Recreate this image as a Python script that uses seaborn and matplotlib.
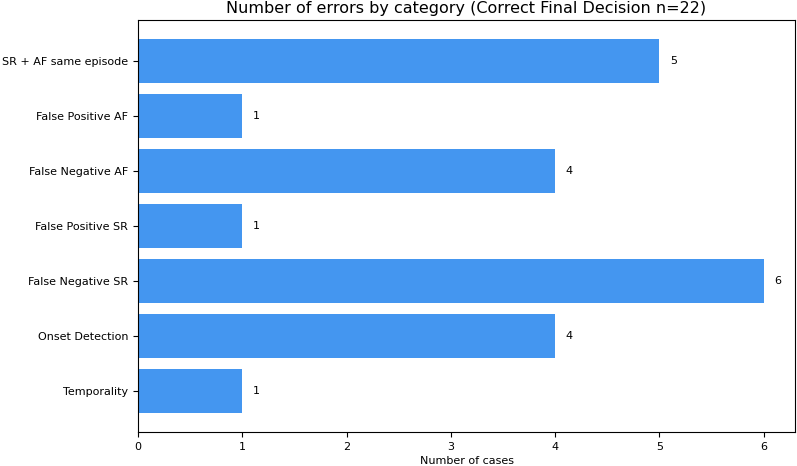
import matplotlib
matplotlib.use("Agg")
import matplotlib.pyplot as plt
import seaborn as sns
import pandas as pd

categories = ["SR + AF same episode", "False Positive AF", "False Negative AF",
              "False Positive SR", "False Negative SR", "Onset Detection", "Temporality"]
counts = [5, 1, 4, 1, 6, 4, 1]

df = pd.DataFrame({"category": categories, "count": counts})

fig = plt.figure(figsize=(7.97, 4.66), dpi=100)
ax = fig.add_axes([138/797, 1 - 432/466, (795-138)/797, (432-20)/466])
sns.barplot(data=df, y="category", x="count", orient="h", color="#4496F0",
            saturation=1, width=0.8, ax=ax)
ax.set_ylim(6.74, -0.74)
ax.set_xlim(0, 6.3)
ax.set_ylabel("")
ax.set_xlabel("Number of cases", fontsize=8, labelpad=3)
ax.tick_params(labelsize=8)
ax.set_title("Number of errors by category (Correct Final Decision n=22)", fontsize=11.5, pad=5)
for i, v in enumerate(counts):
    ax.text(v + 0.1, i, str(v), va="center", ha="left", fontsize=8)
fig.savefig("out.png", dpi=100)
